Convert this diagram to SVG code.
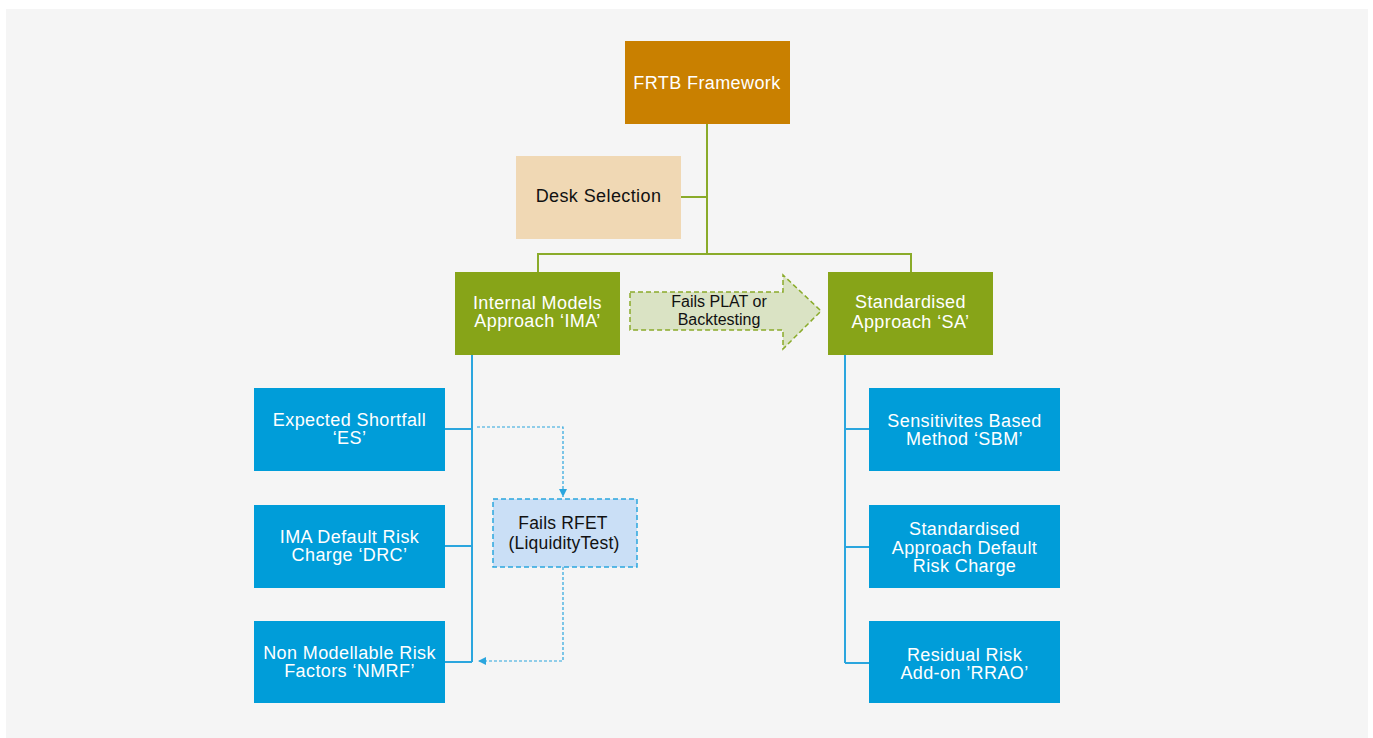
<svg xmlns="http://www.w3.org/2000/svg" width="1373" height="738" viewBox="0 0 1373 738">
<style>
text{font-family:"Liberation Sans",Arial,Helvetica,sans-serif;text-anchor:middle}
.w{fill:#ffffff;font-size:18px;letter-spacing:0.4px}
.k{fill:#111111;font-size:18px;letter-spacing:0.4px}
.s{fill:#111111;font-size:16px}
.r{fill:#111111;font-size:17.5px;letter-spacing:0.2px}
.blue{fill:#009dd9}
.green{fill:#87a418}
.gl{stroke:#8aab2a;stroke-width:2;fill:none}
.bl{stroke:#2ba6de;stroke-width:2;fill:none}
.dl{stroke:#2ba6de;stroke-width:1.2;stroke-dasharray:3 2;fill:none}
</style>
<defs>
<marker id="ah" viewBox="0 0 10 10" refX="10" refY="5" markerWidth="8" markerHeight="8" markerUnits="userSpaceOnUse" orient="auto">
<path d="M0,0 L10,5 L0,10 z" fill="#2ba6de"/>
</marker>
</defs>
<rect x="0" y="0" width="1373" height="738" fill="#ffffff"/>
<rect x="6" y="9" width="1362" height="729" fill="#f5f5f5"/>

<g id="connectors">
<path class="gl" d="M707,124 V254 M681,197 H707 M538,272 V254 H911 V272"/>
<path class="bl" d="M472,355 V662 M445,429 H472 M445,546 H472 M445,662 H472"/>
<path class="bl" d="M845,355 V663 M869,429 H845 M869,547 H845 M869,663 H845"/>
<path class="dl" d="M477,427 H563 V497" marker-end="url(#ah)"/>
<path class="dl" d="M563,567 V661 H478" marker-end="url(#ah)"/>
</g>

<g id="frtb">
<rect x="625" y="41" width="165" height="83" fill="#c98000"/>
<text class="w" x="707" y="89">FRTB Framework</text>
</g>
<g id="desk">
<rect x="516" y="156" width="165" height="83" fill="#f0d8b4"/>
<text class="k" x="598.5" y="202">Desk Selection</text>
</g>
<g id="ima">
<rect class="green" x="455" y="272" width="165" height="83"/>
<text class="w" x="537.5" y="309">Internal Models</text>
<text class="w" x="537.5" y="327">Approach ‘IMA’</text>
</g>
<g id="sa">
<rect class="green" x="828" y="272" width="165" height="83"/>
<text class="w" x="910.5" y="308">Standardised</text>
<text class="w" x="910.5" y="328">Approach ‘SA’</text>
</g>
<g id="fails-plat">
<path d="M630,292 H783 V275 L821,311 L783,349 V330 H630 Z" fill="#dae3c4" stroke="#8aab2a" stroke-width="1.5" stroke-dasharray="5 3"/>
<text class="s" x="719" y="307">Fails PLAT or</text>
<text class="s" x="719" y="325">Backtesting</text>
</g>
<g id="es">
<rect class="blue" x="254" y="388" width="191" height="83"/>
<text class="w" x="349.5" y="426">Expected Shortfall</text>
<text class="w" x="349.5" y="444">‘ES’</text>
</g>
<g id="drc">
<rect class="blue" x="254" y="505" width="191" height="83"/>
<text class="w" x="349.5" y="543">IMA Default Risk</text>
<text class="w" x="349.5" y="561">Charge ‘DRC’</text>
</g>
<g id="nmrf">
<rect class="blue" x="254" y="621" width="191" height="82"/>
<text class="w" x="349.5" y="659">Non Modellable Risk</text>
<text class="w" x="349.5" y="677">Factors ‘NMRF’</text>
</g>
<g id="rfet">
<rect x="493" y="499" width="144" height="68" fill="#cadff6" stroke="#2ba6de" stroke-width="1.5" stroke-dasharray="5 3"/>
<text class="r" x="563" y="529">Fails RFET</text>
<text class="r" x="564" y="549">(LiquidityTest)</text>
</g>
<g id="sbm">
<rect class="blue" x="869" y="388" width="191" height="83"/>
<text class="w" x="964.5" y="427">Sensitivites Based</text>
<text class="w" x="964.5" y="445">Method ‘SBM’</text>
</g>
<g id="sadrc">
<rect class="blue" x="869" y="505" width="191" height="83"/>
<text class="w" x="964.5" y="535">Standardised</text>
<text class="w" x="964.5" y="553.5">Approach Default</text>
<text class="w" x="964.5" y="572">Risk Charge</text>
</g>
<g id="rrao">
<rect class="blue" x="869" y="621" width="191" height="82"/>
<text class="w" x="964.5" y="660.5">Residual Risk</text>
<text class="w" x="964.5" y="678.5">Add-on ’RRAO’</text>
</g>
</svg>
